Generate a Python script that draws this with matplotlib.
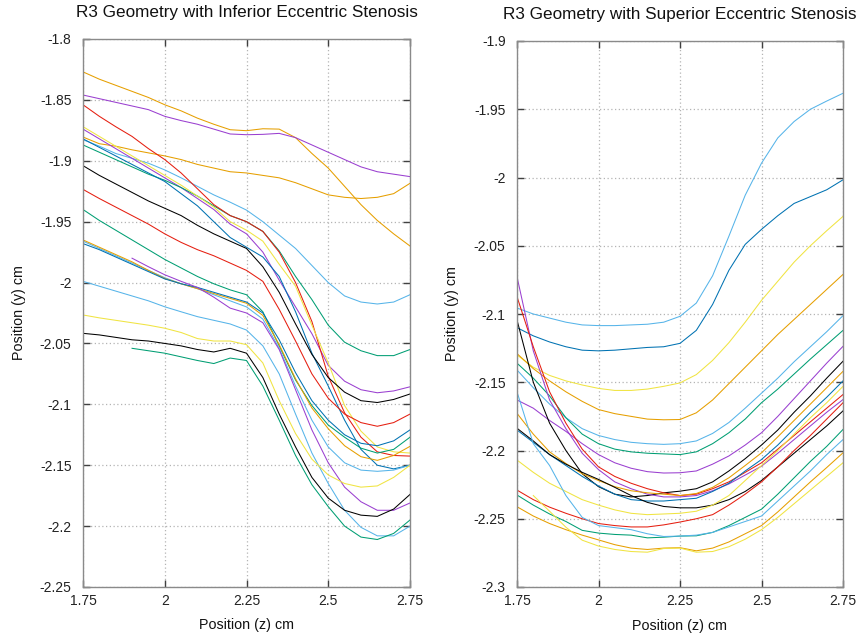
import matplotlib
matplotlib.use("Agg")
import matplotlib.pyplot as plt
import numpy as np

plt.rcParams['font.family'] = ['Liberation Sans', 'DejaVu Sans']

nan = float('nan')

# axial position (z) in cm, shared by all curves
z = [1.75, 1.80, 1.85, 1.90, 1.95, 2.00, 2.05, 2.10, 2.15, 2.20, 2.25,
     2.30, 2.35, 2.40, 2.45, 2.50, 2.55, 2.60, 2.65, 2.70, 2.75]

xtick_vals = [1.75, 2.0, 2.25, 2.5, 2.75]
xtick_labels = ['1.75', '2', '2.25', '2.5', '2.75']
left_ytick_vals = [-1.8, -1.85, -1.9, -1.95, -2.0, -2.05, -2.1, -2.15, -2.2, -2.25]
left_ytick_labels = ['-1.8', '-1.85', '-1.9', '-1.95', '-2', '-2.05', '-2.1', '-2.15', '-2.2', '-2.25']
right_ytick_vals = [-1.9, -1.95, -2.0, -2.05, -2.1, -2.15, -2.2, -2.25, -2.3]
right_ytick_labels = ['-1.9', '-1.95', '-2', '-2.05', '-2.1', '-2.15', '-2.2', '-2.25', '-2.3']

left_title = 'R3 Geometry with Inferior Eccentric Stenosis'
right_title = 'R3 Geometry with Superior Eccentric Stenosis'
xlabel = 'Position (z) cm'
ylabel = 'Position (y) cm'

palette = {
    'purple': '#9A3FD0', 'green': '#009E73', 'lblue': '#56B4E9', 'orange': '#E69F00',
    'yellow': '#F0E442', 'blue': '#0072B2', 'red': '#E51E10', 'black': '#000000',
}

# ---------------- Inferior stenosis (left panel) ----------------
inf_orange_a = [-1.827, -1.833, -1.838, -1.843, -1.848, -1.854, -1.859, -1.865, -1.870, -1.8745, -1.8753,
                -1.8737, -1.874, -1.881, -1.894, -1.906, -1.921, -1.936, -1.949, -1.960, -1.970]
inf_purple_a = [-1.846, -1.849, -1.852, -1.855, -1.858, -1.8635, -1.867, -1.870, -1.874, -1.878, -1.8786,
                -1.8783, -1.8775, -1.881, -1.887, -1.893, -1.899, -1.905, -1.909, -1.911, -1.913]
inf_orange_b = [-1.8805, -1.886, -1.888, -1.891, -1.8935, -1.896, -1.899, -1.903, -1.906, -1.909, -1.910,
                -1.912, -1.914, -1.918, -1.923, -1.928, -1.930, -1.931, -1.930, -1.927, -1.9185]
inf_lblue_a = [-1.8827, -1.888, -1.894, -1.898, -1.902, -1.9075, -1.914, -1.921, -1.928, -1.934, -1.9405,
               -1.950, -1.961, -1.972, -1.986, -2.000, -2.011, -2.016, -2.0176, -2.016, -2.010]
inf_red_a = [-1.854, -1.8635, -1.872, -1.880, -1.890, -1.899, -1.910, -1.923, -1.936, -1.945, -1.950,
             -1.958, -1.975, -2.000, -2.032, -2.077, -2.107, -2.127, -2.139, -2.142, -2.1425]
inf_yellow_a = [-1.872, -1.880, -1.888, -1.896, -1.904, -1.912, -1.920, -1.929, -1.938, -1.950, -1.957,
                -1.966, -1.985, -2.003, -2.035, -2.066, -2.101, -2.122, -2.135, -2.139, -2.140]
inf_purple_b = [-1.874, -1.882, -1.890, -1.898, -1.906, -1.914, -1.922, -1.931, -1.940, -1.952, -1.960,
                -1.975, -1.998, -2.020, -2.042, -2.068, -2.081, -2.088, -2.0905, -2.089, -2.0856]
inf_green_a = [-1.887, -1.893, -1.899, -1.905, -1.911, -1.916, -1.922, -1.929, -1.937, -1.945, -1.950,
               -1.958, -1.974, -1.995, -2.014, -2.035, -2.049, -2.056, -2.060, -2.060, -2.055]
inf_blue_a = [-1.882, -1.889, -1.896, -1.903, -1.910, -1.917, -1.927, -1.937, -1.950, -1.963, -1.971,
              -1.979, -1.995, -2.024, -2.058, -2.085, -2.113, -2.137, -2.150, -2.153, -2.150]
inf_black_a = [-1.904, -1.912, -1.919, -1.926, -1.933, -1.939, -1.945, -1.953, -1.960, -1.966, -1.972,
               -1.987, -2.008, -2.034, -2.059, -2.078, -2.090, -2.097, -2.0985, -2.096, -2.0915]
inf_red_b = [-1.9235, -1.931, -1.938, -1.945, -1.952, -1.960, -1.967, -1.973, -1.978, -1.984, -1.990,
             -1.999, -2.022, -2.048, -2.075, -2.095, -2.108, -2.115, -2.118, -2.115, -2.108]
inf_green_b = [-1.940, -1.949, -1.957, -1.965, -1.973, -1.981, -1.988, -1.995, -2.001, -2.006, -2.010,
               -2.024, -2.052, -2.080, -2.101, -2.117, -2.127, -2.136, -2.140, -2.137, -2.127]
inf_orange_c = [-1.965, -1.971, -1.977, -1.983, -1.990, -1.9966, -2.001, -2.005, -2.009, -2.013, -2.017,
                -2.027, -2.051, -2.079, -2.103, -2.120, -2.134, -2.143, -2.146, -2.142, -2.1345]
inf_blue_b = [-1.968, -1.973, -1.979, -1.985, -1.991, -1.997, -2.001, -2.004, -2.008, -2.012, -2.016,
              -2.025, -2.047, -2.074, -2.097, -2.113, -2.125, -2.132, -2.134, -2.130, -2.121]
inf_lblue_b = [-1.966, -1.972, -1.978, -1.984, -1.990, -1.996, -2.001, -2.005, -2.010, -2.015, -2.020,
               -2.030, -2.054, -2.085, -2.113, -2.135, -2.148, -2.154, -2.155, -2.154, -2.150]
inf_purple_c = [nan, nan, nan, -1.980, -1.987, -1.9936, -1.999, -2.004, -2.012, -2.021, -2.025,
                -2.033, -2.055, -2.088, -2.121, -2.148, -2.168, -2.180, -2.187, -2.187, -2.181]
inf_lblue_c = [-1.999, -2.003, -2.007, -2.011, -2.015, -2.0199, -2.024, -2.028, -2.031, -2.034, -2.039,
               -2.052, -2.075, -2.108, -2.140, -2.165, -2.187, -2.201, -2.208, -2.208, -2.200]
inf_yellow_b = [-2.0266, -2.029, -2.031, -2.033, -2.035, -2.0375, -2.041, -2.046, -2.048, -2.048, -2.051,
                -2.066, -2.097, -2.124, -2.145, -2.158, -2.165, -2.168, -2.167, -2.160, -2.150]
inf_black_b = [-2.0417, -2.043, -2.045, -2.047, -2.048, -2.050, -2.052, -2.055, -2.057, -2.054, -2.058,
               -2.078, -2.108, -2.135, -2.160, -2.177, -2.187, -2.191, -2.192, -2.186, -2.174]
inf_green_c = [nan, nan, nan, -2.054, -2.056, -2.058, -2.061, -2.064, -2.0665, -2.062, -2.064,
               -2.085, -2.113, -2.142, -2.166, -2.184, -2.200, -2.209, -2.211, -2.206, -2.195]

# ---------------- Superior stenosis (right panel) ----------------
sup_lblue_a = [-2.0956, -2.100, -2.103, -2.106, -2.108, -2.1085, -2.1085, -2.108, -2.1075, -2.106, -2.1017,
               -2.092, -2.072, -2.043, -2.013, -1.9895, -1.971, -1.959, -1.950, -1.944, -1.9383]
sup_blue_a = [-2.110, -2.116, -2.1205, -2.124, -2.1265, -2.127, -2.1265, -2.1255, -2.1245, -2.124, -2.1215,
              -2.112, -2.093, -2.068, -2.049, -2.038, -2.028, -2.019, -2.014, -2.009, -2.0017]
sup_yellow_a = [-2.130, -2.139, -2.145, -2.149, -2.152, -2.1545, -2.156, -2.156, -2.155, -2.153, -2.1505,
                -2.1444, -2.134, -2.121, -2.106, -2.090, -2.076, -2.062, -2.050, -2.039, -2.0285]
sup_orange_a = [-2.129, -2.140, -2.149, -2.157, -2.164, -2.170, -2.173, -2.175, -2.177, -2.1775, -2.1773,
                -2.1724, -2.163, -2.151, -2.139, -2.127, -2.115, -2.104, -2.093, -2.082, -2.071]
sup_purple_a = [-2.0727, -2.127, -2.163, -2.184, -2.202, -2.214, -2.223, -2.228, -2.232, -2.234, -2.234,
                -2.233, -2.2295, -2.2245, -2.218, -2.2115, -2.202, -2.192, -2.182, -2.172, -2.1627]
sup_purple_b = [-2.163, -2.169, -2.178, -2.186, -2.195, -2.203, -2.209, -2.213, -2.2155, -2.2165, -2.2163,
                -2.215, -2.210, -2.204, -2.196, -2.187, -2.175, -2.162, -2.149, -2.136, -2.1237]
sup_red_a = [-2.0873, -2.124, -2.157, -2.180, -2.199, -2.212, -2.219, -2.224, -2.228, -2.231, -2.233,
             -2.232, -2.228, -2.223, -2.216, -2.209, -2.199, -2.189, -2.179, -2.169, -2.159]
sup_red_b = [-2.229, -2.236, -2.2415, -2.246, -2.250, -2.2535, -2.255, -2.256, -2.256, -2.2545, -2.2524,
             -2.250, -2.247, -2.240, -2.232, -2.223, -2.212, -2.200, -2.189, -2.177, -2.165]
sup_black_a = [-2.1044, -2.150, -2.180, -2.200, -2.217, -2.2265, -2.232, -2.234, -2.233, -2.231, -2.2298,
               -2.228, -2.223, -2.215, -2.206, -2.196, -2.185, -2.172, -2.160, -2.147, -2.1346]
sup_black_b = [-2.1837, -2.193, -2.203, -2.210, -2.216, -2.2212, -2.227, -2.233, -2.238, -2.241, -2.242,
               -2.242, -2.240, -2.236, -2.230, -2.222, -2.212, -2.202, -2.192, -2.182, -2.171]
sup_lblue_b = [-2.141, -2.154, -2.166, -2.176, -2.184, -2.189, -2.192, -2.194, -2.195, -2.1955, -2.195,
               -2.193, -2.1875, -2.1795, -2.169, -2.158, -2.147, -2.135, -2.124, -2.113, -2.1012]
sup_lblue_c = [-2.157, -2.195, -2.211, -2.233, -2.249, -2.255, -2.2565, -2.258, -2.261, -2.263, -2.2627,
               -2.262, -2.260, -2.256, -2.252, -2.248, -2.237, -2.226, -2.215, -2.203, -2.192]
sup_blue_b = [-2.185, -2.194, -2.203, -2.211, -2.219, -2.226, -2.232, -2.236, -2.237, -2.237, -2.236,
              -2.235, -2.230, -2.224, -2.215, -2.2066, -2.196, -2.184, -2.172, -2.161, -2.149]
sup_orange_b = [-2.1728, -2.188, -2.201, -2.2095, -2.217, -2.222, -2.2265, -2.2295, -2.231, -2.232, -2.233,
                -2.2315, -2.227, -2.220, -2.211, -2.2017, -2.190, -2.178, -2.166, -2.154, -2.142]
sup_orange_c = [-2.2412, -2.248, -2.2535, -2.258, -2.262, -2.2655, -2.269, -2.2715, -2.2725, -2.2715, -2.2712,
                -2.2735, -2.2715, -2.267, -2.261, -2.255, -2.245, -2.234, -2.223, -2.2125, -2.2017]
sup_yellow_b = [-2.207, -2.216, -2.224, -2.230, -2.236, -2.240, -2.2435, -2.246, -2.247, -2.2465, -2.246,
                -2.2445, -2.240, -2.233, -2.222, -2.211, -2.200, -2.188, -2.176, -2.165, -2.153]
sup_yellow_c = [nan, -2.233, -2.2445, -2.2562, -2.2657, -2.270, -2.2725, -2.274, -2.2745, -2.2718, -2.2715,
                -2.2745, -2.274, -2.2705, -2.265, -2.258, -2.249, -2.239, -2.229, -2.219, -2.209]
sup_green_a = [-2.136, -2.147, -2.160, -2.176, -2.188, -2.195, -2.199, -2.201, -2.202, -2.2025, -2.203,
               -2.201, -2.195, -2.187, -2.177, -2.165, -2.155, -2.144, -2.133, -2.1225, -2.112]
sup_green_b = [-2.2326, -2.240, -2.2465, -2.252, -2.2585, -2.2605, -2.2615, -2.262, -2.264, -2.2635, -2.2627,
               -2.2625, -2.260, -2.255, -2.249, -2.243, -2.232, -2.220, -2.208, -2.197, -2.1846]

left_series = [
    (inf_orange_a, 'orange'), (inf_purple_a, 'purple'), (inf_orange_b, 'orange'),
    (inf_lblue_a, 'lblue'), (inf_purple_b, 'purple'), (inf_green_a, 'green'),
    (inf_blue_a, 'blue'), (inf_red_a, 'red'), (inf_yellow_a, 'yellow'),
    (inf_black_a, 'black'), (inf_red_b, 'red'), (inf_green_b, 'green'),
    (inf_lblue_b, 'lblue'), (inf_orange_c, 'orange'), (inf_blue_b, 'blue'),
    (inf_purple_c, 'purple'), (inf_lblue_c, 'lblue'), (inf_yellow_b, 'yellow'),
    (inf_black_b, 'black'), (inf_green_c, 'green'),
]
right_series = [
    (sup_lblue_a, 'lblue'), (sup_blue_a, 'blue'), (sup_yellow_a, 'yellow'),
    (sup_orange_a, 'orange'), (sup_lblue_b, 'lblue'), (sup_green_a, 'green'),
    (sup_purple_b, 'purple'), (sup_black_a, 'black'), (sup_purple_a, 'purple'),
    (sup_red_a, 'red'), (sup_orange_b, 'orange'), (sup_blue_b, 'blue'),
    (sup_black_b, 'black'), (sup_yellow_b, 'yellow'), (sup_red_b, 'red'),
    (sup_green_b, 'green'), (sup_lblue_c, 'lblue'), (sup_orange_c, 'orange'),
    (sup_yellow_c, 'yellow'),
]

W, H = 858, 636
fig = plt.figure(figsize=(W / 100, H / 100), dpi=100)
ax1 = fig.add_axes([83 / W, 1 - 587 / H, 327 / W, 548 / H])
ax2 = fig.add_axes([517 / W, 1 - 587 / H, 326 / W, 546 / H])


def style(ax, yvals, ylabs, ylim, title):
    ax.set_xlim(1.75, 2.75)
    ax.set_ylim(*ylim)
    ax.set_xticks(xtick_vals)
    ax.set_xticklabels(xtick_labels)
    ax.set_yticks(yvals)
    ax.set_yticklabels(ylabs)
    ax.grid(True, color='#b4b4b4', linestyle=(0, (1, 2)), linewidth=0.9)
    ax.set_axisbelow(True)
    for s in ax.spines.values():
        s.set_color('#8a8a8a')
        s.set_linewidth(1.0)
    ax.tick_params(direction='in', length=5, width=1.0, color='#404040',
                   top=True, right=True, labelsize=10, labelcolor='#222222')
    ax.tick_params(axis='y', pad=8.2)
    ax.tick_params(axis='x', pad=5)
    ax.set_title(title, fontsize=12.3, pad=15.5, color='#111111')
    ax.set_xlabel(xlabel, fontsize=10.3, color='#111111')
    ax.set_ylabel(ylabel, fontsize=10.3, color='#111111')


for vals, c in left_series:
    ax1.plot(z, vals, color=palette[c], linewidth=0.75)
for vals, c in right_series:
    ax2.plot(z, vals, color=palette[c], linewidth=0.75)

style(ax1, left_ytick_vals, left_ytick_labels, (-2.25, -1.8), left_title)
style(ax2, right_ytick_vals, right_ytick_labels, (-2.3, -1.9), right_title)
ax1.xaxis.set_label_coords(0.5, -0.056)
ax2.xaxis.set_label_coords(0.5, -0.058)
ax1.yaxis.set_label_coords(-0.175, 0.5)
ax2.yaxis.set_label_coords(-0.177, 0.5)

fig.savefig('out.png', dpi=100)
